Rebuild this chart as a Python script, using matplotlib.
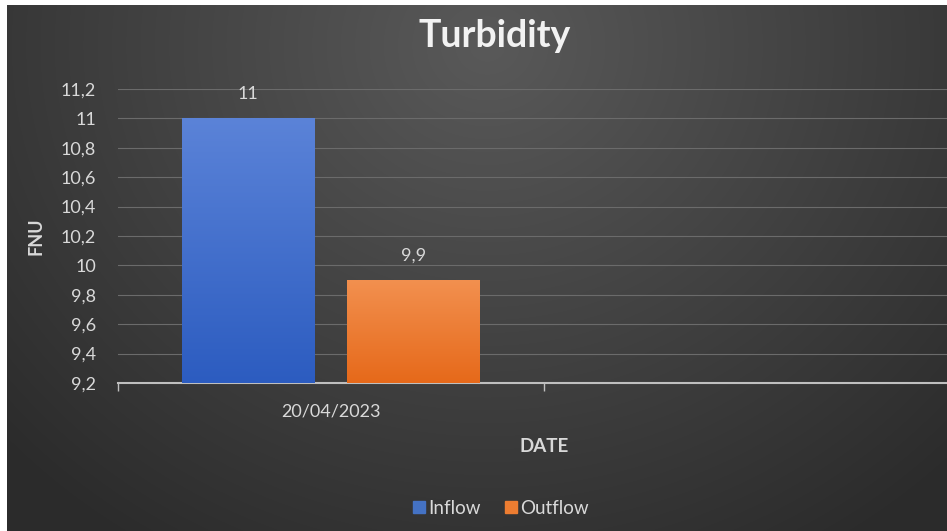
import numpy as np
import matplotlib
matplotlib.use("Agg")
from matplotlib import pyplot as plt
from matplotlib.colors import LinearSegmentedColormap
from matplotlib.ticker import FuncFormatter, MultipleLocator

# 数据
categories = ["20/04/2023", ""]
inflow = [11.0, np.nan]
outflow = [9.9, np.nan]
series_names = ["Inflow", "Outflow"]
y_min, y_max = 9.2, 11.2

plt.rcParams['font.family'] = ['Lato', 'DejaVu Sans']
txt = '#d9d9d9'
fs = 13

fig = plt.figure(figsize=(9.47, 5.31), dpi=100, facecolor='white')

# 背景渐变 (中间偏上较亮), 左上有白边
h, w = 526, 940
yy, xx = np.mgrid[0:h, 0:w]
d = np.sqrt(((xx - 480) / 620.0) ** 2 + ((yy - 40) / 560.0) ** 2)
shade = np.clip(0.35 - 0.17 * d, 0.17, 0.36)
fig.figimage(np.dstack([shade] * 3), xo=7, yo=0, origin='upper', zorder=-10)

ax = fig.add_axes([118 / 947, 1 - 383 / 531, 852 / 947, (383 - 89) / 531])
ax.patch.set_alpha(0)

x = np.arange(len(categories)) + 0.5
bw = 0.312
off = 0.194
b1 = ax.bar(x - off, inflow, bw, bottom=0, color='#4472c4', zorder=2)
b2 = ax.bar(x + off, outflow, bw, bottom=0, color='#ed7d31', zorder=2)

# 柱子渐变
cm_blue = LinearSegmentedColormap.from_list('b', ['#2c5cc0', '#5b83d8'])
cm_orng = LinearSegmentedColormap.from_list('o', ['#e6691a', '#f2904f'])
for bars, cm in [(b1, cm_blue), (b2, cm_orng)]:
    for p in bars:
        if np.isnan(p.get_height()):
            continue
        grad = np.linspace(0, 1, 256).reshape(-1, 1)
        im = ax.imshow(grad, cmap=cm, origin='lower', aspect='auto', zorder=3,
                       extent=[p.get_x(), p.get_x() + p.get_width(), y_min, p.get_height()])
        im.set_clip_path(p)

fmt = lambda v: ('%g' % v).replace('.', ',')
for bars, vals in [(b1, inflow), (b2, outflow)]:
    for p, v in zip(bars, vals):
        if np.isnan(v):
            continue
        ax.text(p.get_x() + p.get_width() / 2, v + 0.165, fmt(v), ha='center', va='center',
                color=txt, fontsize=fs, zorder=5)

ax.set_xlim(0, len(categories))
ax.set_ylim(y_min, y_max)
ax.yaxis.set_major_locator(MultipleLocator(0.2))
ax.yaxis.set_major_formatter(FuncFormatter(lambda v, pos: fmt(round(v, 1))))
ax.grid(axis='y', color='#6b6b6b', linewidth=0.8, zorder=0)
ax.set_axisbelow(True)

ax.set_xticks(np.arange(len(categories) + 1))
ax.set_xticklabels([])
ax.set_xticks(x, minor=True)
ax.set_xticklabels(categories, minor=True)
ax.tick_params(axis='x', which='major', length=6, color='#bfbfbf', width=1, direction='out')
ax.tick_params(axis='x', which='minor', length=0, labelsize=fs, labelcolor=txt, pad=15)
ax.tick_params(axis='y', length=0, labelsize=fs, labelcolor=txt, pad=16)

for s in ['top', 'right', 'left']:
    ax.spines[s].set_visible(False)
ax.spines['bottom'].set_color('#bfbfbf')
ax.spines['bottom'].set_linewidth(1.5)

fig.text(495 / 947, 1 - 47 / 531, 'Turbidity', ha='center', va='baseline',
         fontsize=27, fontweight='bold', color='#f2f2f2')
fig.text(36 / 947, 1 - 236 / 531, 'FNU', ha='center', va='center', rotation=90,
         fontsize=fs, fontweight='bold', color=txt)
fig.text(544 / 947, 1 - 446 / 531, 'DATE', ha='center', va='center',
         fontsize=fs + 0.5, fontweight='bold', color=txt)

handles = [plt.Line2D([], [], marker='s', linestyle='', markersize=8, color=c)
           for c in ['#4472c4', '#ed7d31']]
leg = fig.legend(handles, series_names, loc='center', bbox_to_anchor=(500 / 947, 1 - 508 / 531),
                 ncol=2, frameon=False, fontsize=fs + 0.5, handletextpad=0.1, columnspacing=1.2,
                 handlelength=0.8)
for t in leg.get_texts():
    t.set_color(txt)

fig.savefig('out.png', dpi=100)
